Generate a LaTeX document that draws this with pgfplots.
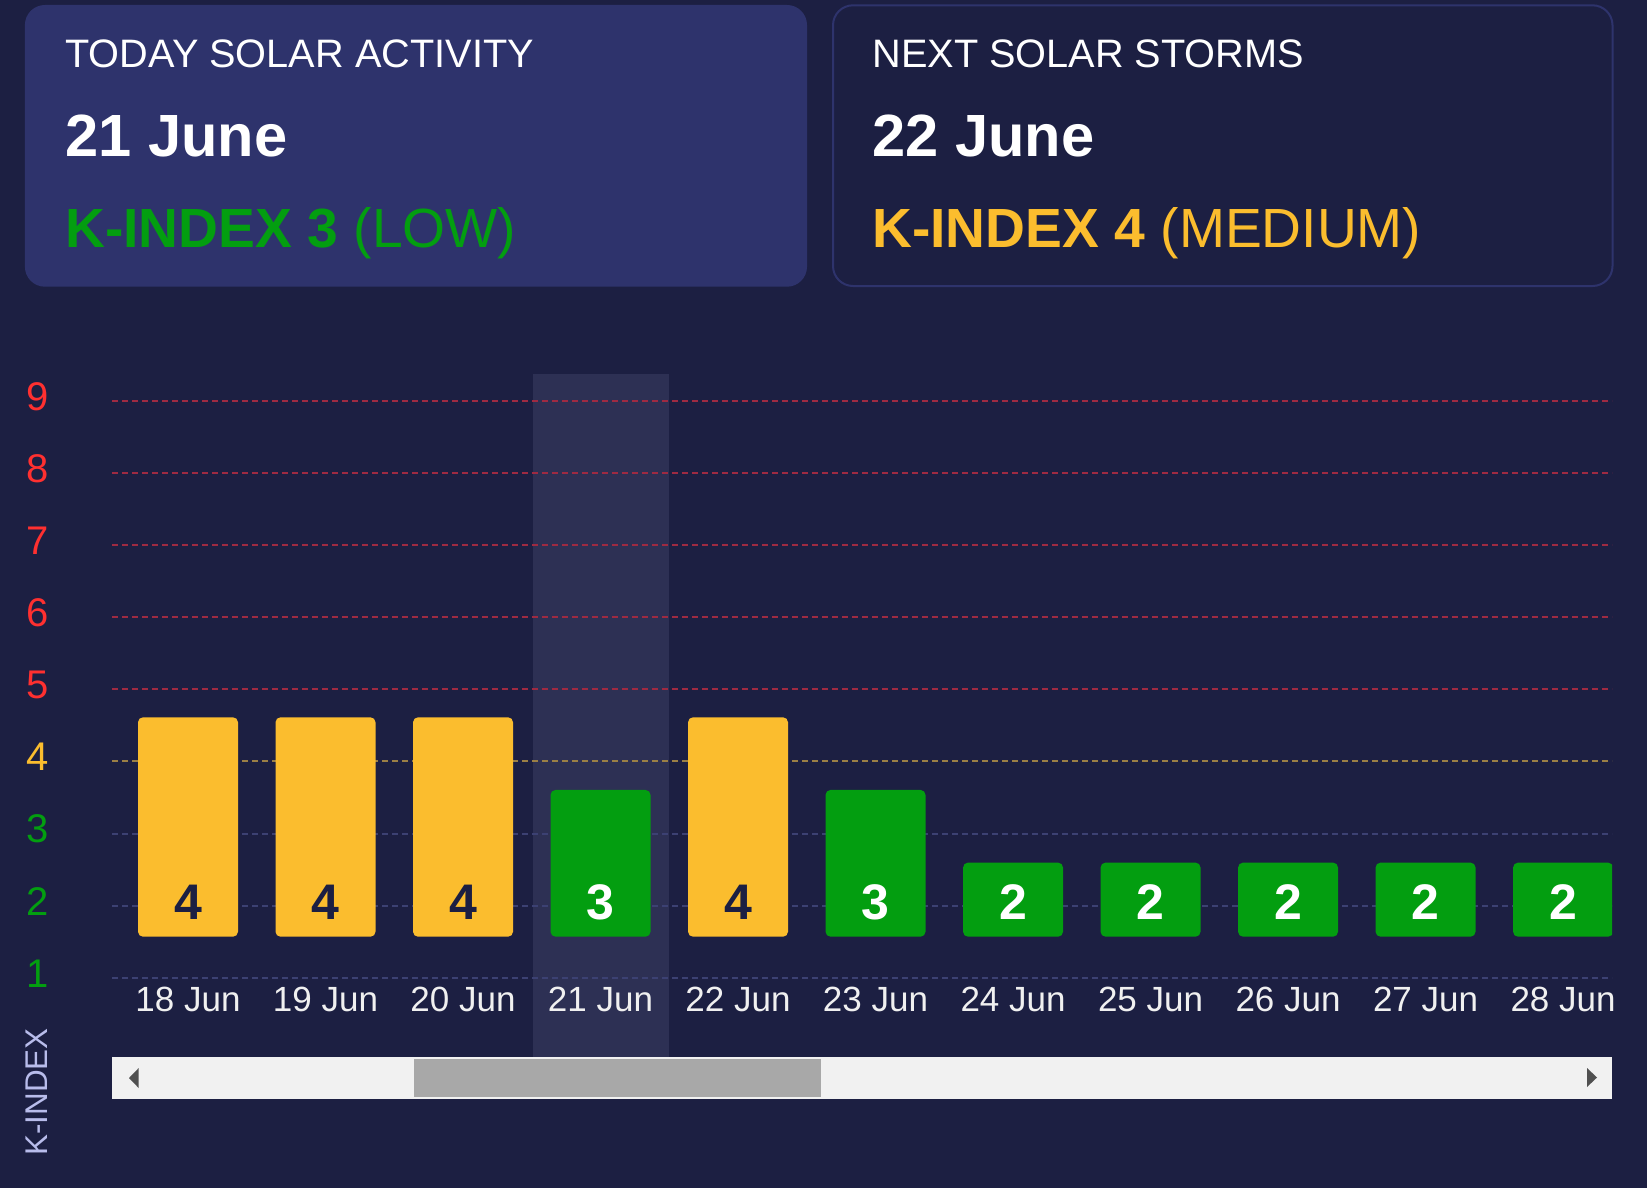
\documentclass[border=0pt]{standalone}
\usepackage{pgfplots}
\pgfplotsset{compat=1.18}
\usepackage{pgfplotstable}
\usepackage{fontspec}
\setmainfont{Liberation Sans}
\definecolor{bg}{HTML}{1C1F42}
\definecolor{cardL}{HTML}{2E336C}
\definecolor{cardB}{HTML}{2E336C}
\definecolor{hl}{HTML}{2D3054}
\definecolor{kyellow}{HTML}{FBBD2E}
\definecolor{kgreen}{HTML}{039E10}
\definecolor{kred}{HTML}{FF3030}
\definecolor{gred}{HTML}{9E2A42}
\definecolor{gyel}{HTML}{9A7F45}
\definecolor{gblue}{HTML}{3C4173}
\definecolor{tick}{HTML}{F0F0F0}
\definecolor{klabel}{HTML}{B8BCEB}
\definecolor{sbg}{HTML}{F1F1F1}
\definecolor{thumb}{HTML}{A8A8A8}
\definecolor{arrow}{HTML}{505050}

\pgfplotstableread{
x k
0 4
1 4
2 4
4 4
}\yellowdata
\pgfplotstableread{
x k
3 3
5 3
6 2
7 2
8 2
9 2
10 2
}\greendata

\begin{document}
\begin{tikzpicture}[x=0.5pt,y=-0.5pt]
\useasboundingbox (0,0) rectangle (1647,1188);
\fill[bg] (0,0) rectangle (1647,1188);
% cards
\fill[cardL, rounded corners=10pt] (24.9,5) rectangle (807,286.7);
\draw[cardB, line width=1pt, rounded corners=10pt] (833,5.3) rectangle (1612.5,286);
\node[anchor=base west, inner sep=0, text=white, font=\fontsize{19.85}{24}\selectfont] at (65,67.7) {TODAY SOLAR ACTIVITY};
\node[anchor=base west, inner sep=0, text=white, font=\fontsize{29.8}{36}\selectfont\bfseries] at (65,156.7) {21 June};
\node[anchor=base west, inner sep=0, text=kgreen, font=\fontsize{27.6}{33}\selectfont] at (65,247.3) {\textbf{K-INDEX 3} (LOW)};
\node[anchor=base west, inner sep=0, text=white, font=\fontsize{19.85}{24}\selectfont] at (872,67.7) {NEXT SOLAR STORMS};
\node[anchor=base west, inner sep=0, text=white, font=\fontsize{29.8}{36}\selectfont\bfseries] at (872,156.7) {22 June};
\node[anchor=base west, inner sep=0, text=kyellow, font=\fontsize{27.6}{33}\selectfont] at (872,247.3) {\textbf{K-INDEX 4} (MEDIUM)};

% highlighted day band (behind everything)
\fill[hl] (532.6,374) rectangle (669,1056.7);

% grid axis
\begin{axis}[
  at={(56pt,-528.35pt)}, anchor=south west,
  scale only axis, width=750pt, height=341.35pt,
  xmin=-0.5527, xmax=10.356, ymin=-0.0957, ymax=9.373,
  axis line style={draw=none}, major tick length=0pt,
  xtick={0,...,10},
  xticklabels={18 Jun,19 Jun,20 Jun,21 Jun,22 Jun,23 Jun,24 Jun,25 Jun,26 Jun,27 Jun,28 Jun},
  xticklabel style={anchor=center, yshift=28.75pt, text=tick, font=\fontsize{17.5}{21}\selectfont},
  ytick={1,...,9},
  yticklabels={{\textcolor{kgreen}{1}},{\textcolor{kgreen}{2}},{\textcolor{kgreen}{3}},{\textcolor{kyellow}{4}},{\textcolor{kred}{5}},{\textcolor{kred}{6}},{\textcolor{kred}{7}},{\textcolor{kred}{8}},{\textcolor{kred}{9}}},
  yticklabel style={anchor=center, xshift=-37pt, yshift=2.2pt, font=\fontsize{20}{24}\selectfont},
  clip=false,
]
\pgfplotsinvokeforeach{1,2,3}{\draw[gblue, line width=1pt, dash pattern=on 3pt off 2pt] (axis cs:-0.5527,#1) -- (axis cs:10.356,#1);}
\draw[gyel, line width=1pt, dash pattern=on 3pt off 2pt] (axis cs:-0.5527,4) -- (axis cs:10.356,4);
\pgfplotsinvokeforeach{5,6,7,8,9}{\draw[gred, line width=1pt, dash pattern=on 3pt off 2pt] (axis cs:-0.5527,#1) -- (axis cs:10.356,#1);}
\end{axis}

% bar axis
\begin{axis}[
  at={(56pt,-468.35pt)}, anchor=south west,
  scale only axis, width=750pt, height=281.35pt,
  xmin=-0.5527, xmax=10.356, ymin=0.98, ymax=8.725,
  axis line style={draw=none}, ticks=none,
]
\addplot[ybar, bar width=50pt, bar shift=0pt, fill=kyellow, draw=none, rounded corners=2.5pt] table[x=x,y=k] {\yellowdata};
\addplot[ybar, bar width=50pt, bar shift=0pt, fill=kgreen, draw=none, rounded corners=2.5pt] table[x=x,y=k] {\greendata};
\addplot[draw=none, point meta=explicit symbolic, nodes near coords={\pgfplotspointmeta},
  nodes near coords style={anchor=center, text=bg, font=\fontsize{25}{30}\selectfont\bfseries}]
  table[x=x, y expr=1.458, meta=k] {\yellowdata};
\addplot[draw=none, point meta=explicit symbolic, nodes near coords={\pgfplotspointmeta},
  nodes near coords style={anchor=center, text=white, font=\fontsize{25}{30}\selectfont\bfseries}]
  table[x=x, y expr=1.458, meta=k] {\greendata};
\end{axis}

% axis label
\node[rotate=90, text=klabel, font=\fontsize{15.7}{19}\selectfont, inner sep=0] at (37,1092) {K-INDEX};
% scrollbar
\fill[sbg] (112,1056.7) rectangle (1612,1099);
\fill[thumb] (414,1059) rectangle (821,1096.7);
\fill[arrow] (129,1078) -- (138.7,1068) -- (138.7,1088) -- cycle;
\fill[arrow] (1597,1077.5) -- (1587,1068) -- (1587,1087) -- cycle;
\end{tikzpicture}
\end{document}
